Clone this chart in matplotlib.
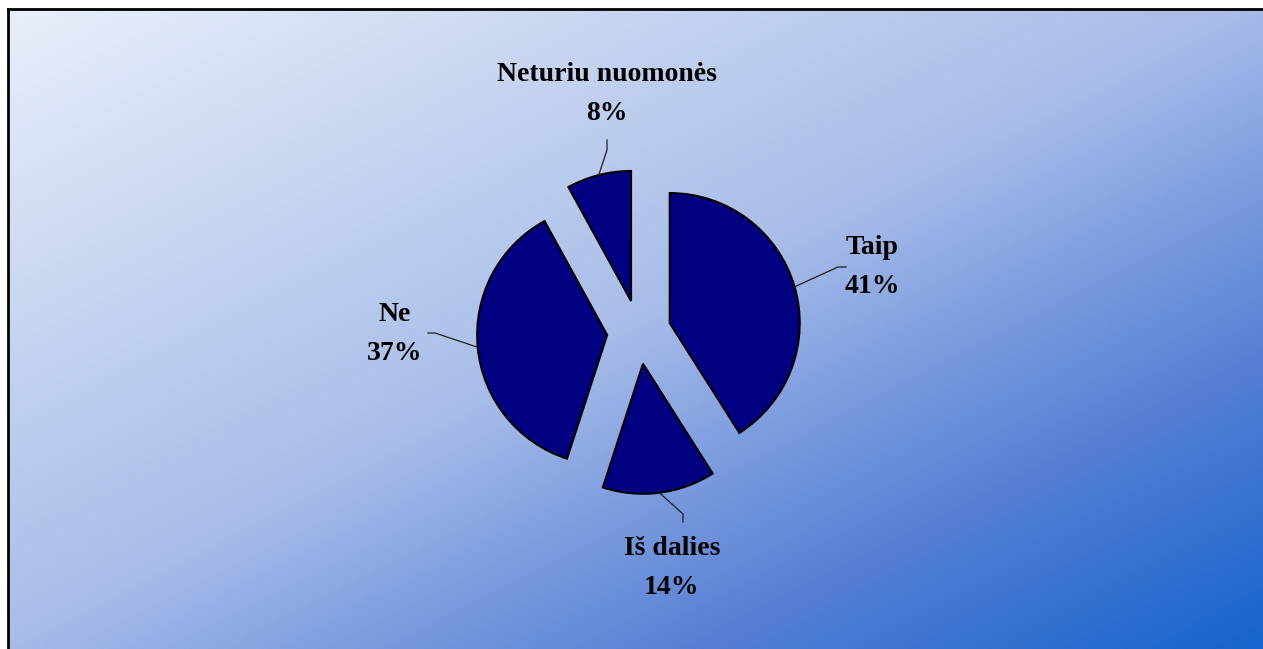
import numpy as np
import matplotlib.pyplot as plt
from matplotlib.colors import LinearSegmentedColormap

# Data
categorias = ['Taip', 'Iš dalies', 'Ne', 'Neturiu nuomonės']
valores = [41, 14, 37, 8]

# Layout (pixel units, y measured from the top)
W, H = 1263, 649
centro = (639, 332)
radio = 130
explosion = 32
etiquetas_xy = [(872, 267), (672, 568), (395, 334), (607, 94)]
lineas_fin = [[(838, 267), (846, 267)], [(683, 514), (683, 522)],
              [(435, 333), (428, 333)], [(607, 150), (607, 140)]]

fig = plt.figure(figsize=(W / 100, H / 100), dpi=100)
ax = fig.add_axes([0, 0, 1, 1])

# Fondo degradado
cmap = LinearSegmentedColormap.from_list('fondo', [
    (0.0, (232/255, 240/255, 250/255)),
    (0.5, (168/255, 188/255, 232/255)),
    (0.62, (130/255, 160/255, 225/255)),
    (0.78, (85/255, 127/255, 212/255)),
    (1.0, (22/255, 100/255, 205/255))])
xx, yy = np.meshgrid(np.linspace(8, W, 400), np.linspace(9, H, 200))
t = (xx / W + yy / H) / 2
ax.imshow(t, cmap=cmap, extent=(8, W, 0, H - 9), origin='upper',
          aspect='auto', zorder=0, vmin=0, vmax=1)
ax.plot([8, 8], [0, H - 9], color='black', lw=2, zorder=1)
ax.plot([8, W], [H - 9, H - 9], color='black', lw=2, zorder=1)

cx, cy = centro[0], H - centro[1]
wedges, _ = ax.pie(valores, center=(cx, cy), radius=radio,
                   explode=[explosion] * len(valores), startangle=90,
                   counterclock=False, frame=True,
                   wedgeprops=dict(facecolor='#000080', edgecolor='black',
                                   linewidth=1.5))
ax.set_xlim(0, W)
ax.set_ylim(0, H)
ax.set_aspect('equal')
ax.axis('off')

for w, cat, val, pos, fin in zip(wedges, categorias, valores,
                                 etiquetas_xy, lineas_fin):
    ang = np.deg2rad((w.theta1 + w.theta2) / 2)
    wx, wy = w.center
    x0 = wx + radio * np.cos(ang)
    y0 = wy + radio * np.sin(ang)
    xs = [x0] + [p[0] for p in fin]
    ys = [y0] + [H - p[1] for p in fin]
    ax.plot(xs, ys, color='#202020', lw=0.9, zorder=3)
    ax.text(pos[0], H - pos[1], '%s\n%d%%' % (cat, val), ha='center',
            va='center', fontsize=20, fontweight='bold',
            family='Liberation Serif', linespacing=1.72, zorder=4)

plt.savefig('out.png', dpi=100)
